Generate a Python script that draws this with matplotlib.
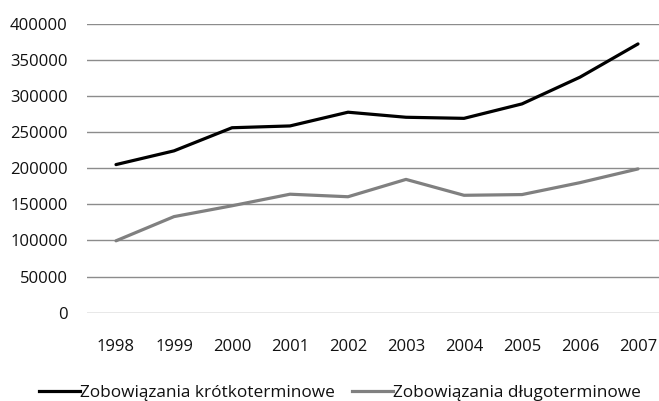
import matplotlib
matplotlib.use("Agg")
import matplotlib.pyplot as plt
from matplotlib.lines import Line2D

years = ["1998", "1999", "2000", "2001", "2002", "2003", "2004", "2005", "2006", "2007"]
krotko = [205000, 224000, 256000, 258500, 277500, 270500, 269000, 289000, 326000, 372000]
dlugo = [99500, 133000, 148000, 164000, 160500, 184500, 162500, 163500, 180000, 199000]
labels = ["Zobowiązania krótkoterminowe", "Zobowiązania długoterminowe"]
yticks = [0, 50000, 100000, 150000, 200000, 250000, 300000, 350000, 400000]

plt.rcParams['font.family'] = ['Open Sans', 'DejaVu Sans']

fig = plt.figure(figsize=(6.59, 4.01), dpi=100)
ax = fig.add_axes([87/659, 1-312.7/401, 580/659, 289/401])

x = list(range(len(years)))
ax.plot(x, krotko, color="black", lw=2.3, solid_capstyle="round", zorder=3)
ax.plot(x, dlugo, color="#808080", lw=2.3, solid_capstyle="round", zorder=3)

ax.set_xlim(-0.5, len(years) - 0.5)
ax.set_ylim(0, 400000)
ax.set_yticks(yticks)
ax.set_yticklabels([str(v) for v in yticks])
ax.set_xticks(x)
ax.set_xticklabels(years)
ax.yaxis.grid(True, color="#8c8c8c", lw=1.0)
ax.set_axisbelow(True)
for s in ax.spines.values():
    s.set_visible(False)
ax.tick_params(axis="both", length=0, labelsize=12, colors="#111111")
ax.tick_params(axis="y", pad=14)
ax.tick_params(axis="x", pad=19)

handles = [Line2D([0], [0], color="black", lw=2.3),
           Line2D([0], [0], color="#808080", lw=2.3)]
fig.legend(handles, labels, loc="center", bbox_to_anchor=(340/659, 1-393/401),
           ncol=2, frameon=False, fontsize=12.4, handlelength=2.38, handletextpad=0.0,
           columnspacing=1.0, labelcolor="#111111", borderpad=0, borderaxespad=0)

fig.savefig("out.png", dpi=100)
